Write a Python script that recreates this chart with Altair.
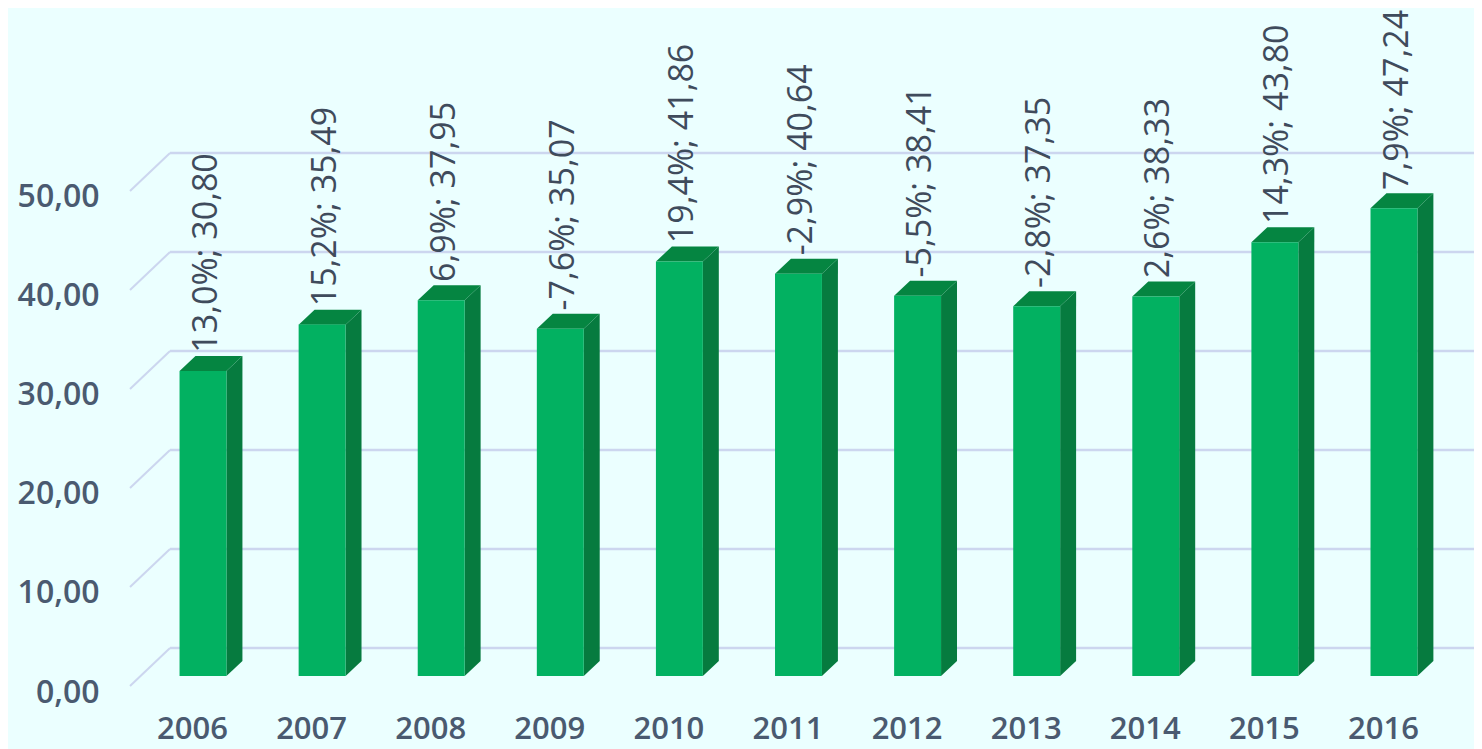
import altair as alt
import pandas as pd

years = [2006, 2007, 2008, 2009, 2010, 2011, 2012, 2013, 2014, 2015, 2016]
values = [30.80, 35.49, 37.95, 35.07, 41.86, 40.64, 38.41, 37.35, 38.33, 43.80, 47.24]
labels = ["13,0%; 30,80", "15,2%; 35,49", "6,9%; 37,95", "-7,6%; 35,07", "19,4%; 41,86",
          "-2,9%; 40,64", "-5,5%; 38,41", "-2,8%; 37,35", "2,6%; 38,33", "14,3%; 43,80", "7,9%; 47,24"]
ticks = [0, 10, 20, 30, 40, 50]

BG = "#ebffff"
FRONT = "#02b161"
TOP = "#058541"
SIDE = "#067b3f"
GRID = "#ccd6ef"
AXIS_TEXT = "#4a5a70"
LABEL_TEXT = "#3f4b5c"
FONT = "Open Sans"

X_MIN, X_MAX = 2005.387, 2016.672
xs = alt.Scale(domain=[X_MIN, X_MAX], nice=False, zero=False)
ys = alt.Scale(domain=[-4.444, 67.47], nice=False, zero=False)

half = 0.197      # half a bar, in years
dx = 0.134        # depth of a bar, in years
dy = 1.515        # depth of a bar, in value units
grid_back = 2.83  # back wall of the floor relative to the bar plane
grid_front = -1.01
x_back = 2005.723

x_axis = alt.Axis(
    values=years, format="d", domain=False, ticks=False, grid=False, title=None,
    labelFont=FONT, labelFontSize=31, labelFontWeight=600, labelColor=AXIS_TEXT,
    labelOffset=-11, labelPadding=-6, labelFlush=False, labelOverlap=False)
y_axis = alt.Axis(
    values=ticks, labelExpr="replace(format(datum.value, '.2f'), '.', ',')",
    domain=False, ticks=False, grid=False, title=None,
    labelFont=FONT, labelFontSize=32, labelFontWeight=600, labelColor=AXIS_TEXT,
    labelOffset=16, labelPadding=31, labelFlush=False, labelOverlap=False)


def X(field):
    return alt.X(field, scale=xs, axis=x_axis)


def Y(field):
    return alt.Y(field, scale=ys, axis=y_axis)


bars = pd.DataFrame({"year": years, "value": values, "label": labels})
bars["x0"] = bars.year - half
bars["x1"] = bars.year + half
bars["zero"] = 0.0
bars["lx"] = bars.year + 0.03
bars["ly"] = bars.value + 1.85

side_rows, top_rows = [], []
for yr, v in zip(years, values):
    side_rows.append({"year": yr, "x": yr + half, "y": v, "y2": 0})
    side_rows.append({"year": yr, "x": yr + half + dx, "y": v + dy, "y2": dy})
    top_rows.append({"year": yr, "y": v, "x": yr - half, "x2": yr + half})
    top_rows.append({"year": yr, "y": v + dy, "x": yr - half + dx, "x2": yr + half + dx})
side = pd.DataFrame(side_rows)
top = pd.DataFrame(top_rows)

grid_h = pd.DataFrame({"t": ticks})
grid_h["y"] = grid_h.t + grid_back
grid_h["x"] = x_back
grid_h["x2"] = X_MAX

slant_rows = []
for t in ticks:
    slant_rows.append({"t": t, "x": X_MIN, "y": t + grid_front})
    slant_rows.append({"t": t, "x": x_back, "y": t + grid_back})
slant = pd.DataFrame(slant_rows)

grid_rules = alt.Chart(grid_h).mark_rule(color=GRID, strokeWidth=2.5).encode(
    x=X("x:Q"), x2="x2:Q", y=Y("y:Q"))

grid_slant = alt.Chart(slant).mark_line(color=GRID, strokeWidth=2).encode(
    x=X("x:Q"), y=Y("y:Q"), detail="t:N")

side_face = alt.Chart(side).mark_area(color=SIDE, opacity=1).encode(
    x=X("x:Q"), y=Y("y:Q"), y2="y2:Q", detail="year:N")

top_face = alt.Chart(top).mark_area(color=TOP, opacity=1, orient="horizontal").encode(
    y=Y("y:Q"), x=X("x:Q"), x2="x2:Q", detail="year:N")

front = alt.Chart(bars).mark_bar(color=FRONT).encode(
    x=X("x0:Q"), x2="x1:Q", y=Y("value:Q"), y2="zero:Q")

text = alt.Chart(bars).mark_text(
    angle=270, align="left", baseline="middle", font=FONT, fontSize=34, color=LABEL_TEXT
).encode(x=X("lx:Q"), y=Y("ly:Q"), text="label:N")

chart = alt.layer(grid_rules, grid_slant, side_face, top_face, front, text).properties(
    width=1344, height=712, background=BG,
    autosize=alt.AutoSizeParams(type="none"),
    padding={"left": 122, "top": 0, "right": 0, "bottom": 29},
).configure_view(stroke=None)

chart.save("out.html", embed_options={"renderer": "svg", "actions": False})
